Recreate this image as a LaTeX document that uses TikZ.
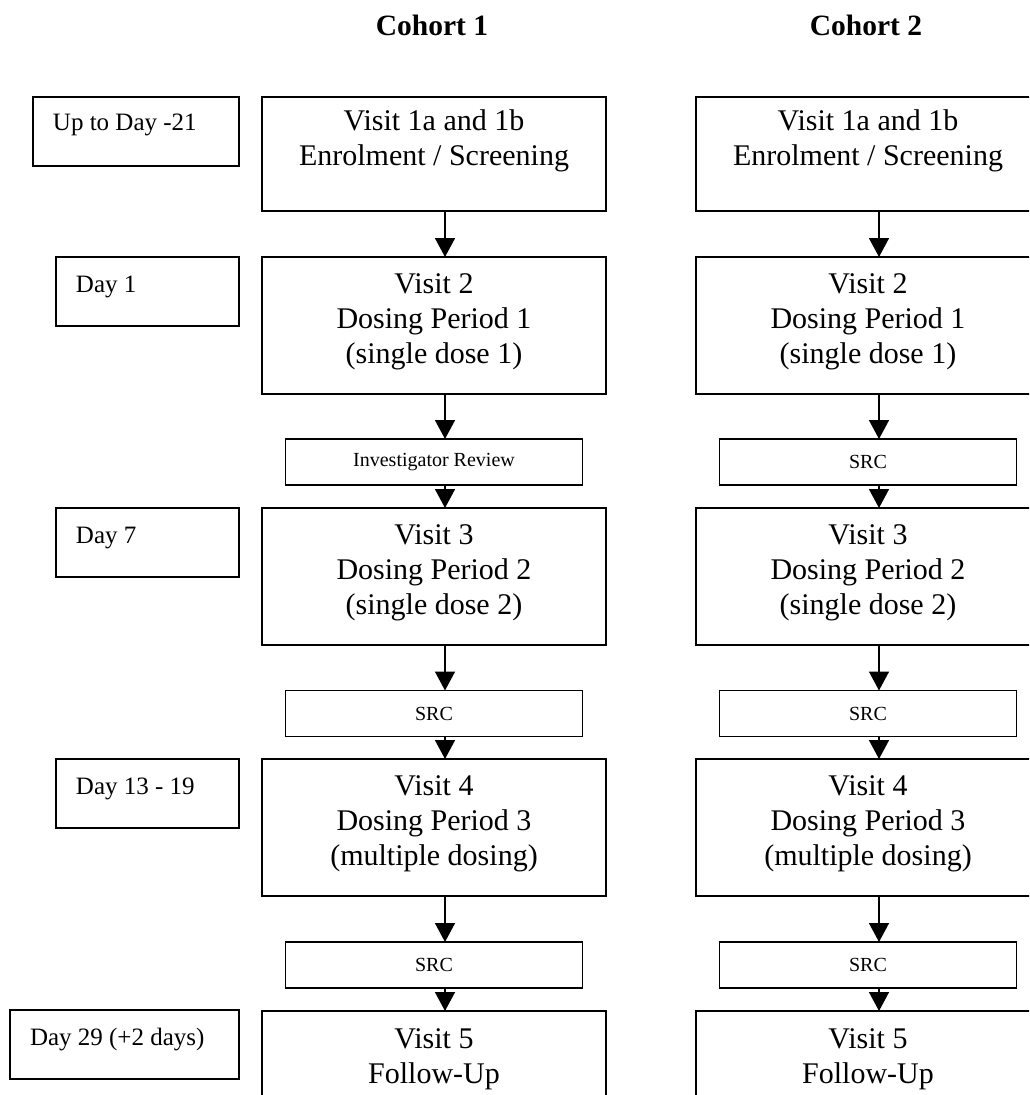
\documentclass[tikz,border=0pt]{standalone}
\usepackage{fontspec}
\setmainfont{Liberation Serif}
\usetikzlibrary{arrows.meta}
\newcommand{\mainbody}[3]{\parbox[t][#1][t]{344pt}{\centering\rule{0pt}{#2}#3}}
\newcommand{\daybody}[3]{\parbox[t][69pt][t]{#1}{\hspace*{20pt}\rule{0pt}{#2}#3}}
\tikzset{
  frame/.style={draw=black, line width=1.6pt, fill=white, outer sep=0pt},
  mainbox/.style={frame, inner sep=0pt, anchor=north west, font=\fontsize{30pt}{35pt}\selectfont},
  daybox/.style={frame, inner sep=0pt, anchor=north west, font=\fontsize{25pt}{29pt}\selectfont},
  smallbox/.style={frame, inner sep=0pt, minimum width=297pt, minimum height=46pt, font=\fontsize{20pt}{24pt}\selectfont},
  titletext/.style={anchor=base, inner sep=0pt, font=\fontsize{29.5pt}{34pt}\selectfont\bfseries},
  arr/.style={draw=black, line width=1.6pt, -{Triangle[width=20pt,length=19pt]}}
}
\begin{document}
\begin{tikzpicture}[x=1pt,y=-1pt]
\useasboundingbox (0,0) rectangle (1029,1095);
\fill[white] (0,0) rectangle (1029,1095);
\clip (0,0) rectangle (1029,1095);

% titles
\node[titletext] (t1) at (432,35) {Cohort 1};
\node[titletext] (t2) at (866,35) {Cohort 2};

% day boxes
\node[daybox] (d1) at (33,97)  {\daybody{206pt}{33pt}{Up to Day -21}};
\node[daybox] (d2) at (56,257) {\daybody{183pt}{35pt}{Day 1}};
\node[daybox] (d3) at (56,508) {\daybody{183pt}{35pt}{Day 7}};
\node[daybox] (d4) at (56,759) {\daybody{183pt}{35pt}{Day 13 - 19}};
\node[daybox] (d5) at (10,1010) {\daybody{229pt}{35pt}{Day 29 (+2 days)}};

% cohort 1
\node[mainbox] (a1) at (262,97)  {\mainbody{114pt}{33pt}{Visit 1a and 1b\\Enrolment / Screening}};
\node[mainbox] (a2) at (262,257) {\mainbody{137pt}{36pt}{Visit 2\\Dosing Period 1\\(single dose 1)}};
\node[smallbox] (as1) at (434,462) {Investigator Review};
\node[mainbox] (a3) at (262,508) {\mainbody{137pt}{36pt}{Visit 3\\Dosing Period 2\\(single dose 2)}};
\node[smallbox] (as2) at (434,713.5) {SRC};
\node[mainbox] (a4) at (262,759) {\mainbody{137pt}{36pt}{Visit 4\\Dosing Period 3\\(multiple dosing)}};
\node[smallbox] (as3) at (434,965) {SRC};
\node[mainbox] (a5) at (262,1011) {\mainbody{137pt}{37pt}{Visit 5\\Follow-Up}};

% cohort 2
\node[mainbox] (b1) at (696,97)  {\mainbody{114pt}{33pt}{Visit 1a and 1b\\Enrolment / Screening}};
\node[mainbox] (b2) at (696,257) {\mainbody{137pt}{36pt}{Visit 2\\Dosing Period 1\\(single dose 1)}};
\node[smallbox] (bs1) at (868,462) {SRC};
\node[mainbox] (b3) at (696,508) {\mainbody{137pt}{36pt}{Visit 3\\Dosing Period 2\\(single dose 2)}};
\node[smallbox] (bs2) at (868,713.5) {SRC};
\node[mainbox] (b4) at (696,759) {\mainbody{137pt}{36pt}{Visit 4\\Dosing Period 3\\(multiple dosing)}};
\node[smallbox] (bs3) at (868,965) {SRC};
\node[mainbox] (b5) at (696,1011) {\mainbody{137pt}{37pt}{Visit 5\\Follow-Up}};

% connectors
\foreach \p in {a,b}{
  \draw[arr] ([xshift=11pt]\p1.south) -- ([xshift=11pt]\p2.north);
  \draw[arr] ([xshift=11pt]\p2.south) -- ([xshift=11pt]\p s1.north);
  \draw[arr] ([xshift=11pt]\p s1.south) -- ([xshift=11pt]\p3.north);
  \draw[arr] ([xshift=11pt]\p3.south) -- ([xshift=11pt]\p s2.north);
  \draw[arr] ([xshift=11pt]\p s2.south) -- ([xshift=11pt]\p4.north);
  \draw[arr] ([xshift=11pt]\p4.south) -- ([xshift=11pt]\p s3.north);
  \draw[arr] ([xshift=11pt]\p s3.south) -- ([xshift=11pt]\p5.north);
}
\end{tikzpicture}
\end{document}
